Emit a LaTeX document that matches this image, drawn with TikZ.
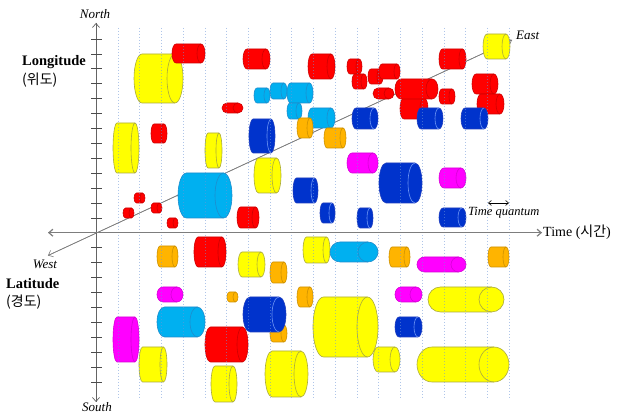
\documentclass[tikz,border=0pt]{standalone}
\usepackage{fontspec}
\setmainfont{Liberation Serif}
\newfontfamily\kr{Noto Sans CJK KR}
\usetikzlibrary{arrows.meta}
\definecolor{cyYf}{RGB}{255,255,0}\definecolor{cyYd}{RGB}{170,170,60}
\definecolor{cyRf}{RGB}{255,0,0}\definecolor{cyRd}{RGB}{205,0,0}
\definecolor{cyCf}{RGB}{0,176,240}\definecolor{cyCd}{RGB}{30,140,205}
\definecolor{cyBf}{RGB}{0,51,204}\definecolor{cyBd}{RGB}{30,60,190}\definecolor{cyBa}{RGB}{110,150,245}
\definecolor{cyOf}{RGB}{255,180,0}\definecolor{cyOd}{RGB}{205,145,0}
\definecolor{cyMf}{RGB}{255,0,255}\definecolor{cyMd}{RGB}{215,0,215}
\definecolor{gridc}{RGB}{110,150,215}
\definecolor{axc}{RGB}{125,125,125}
\newcommand\cyl[6]{%
  \pgfmathsetmacro\cyT{414-#3}\pgfmathsetmacro\cyBt{414-#5}%
  \pgfmathsetmacro\cyRy{(#5-#3)/2}%
  \pgfmathsetmacro\cxa{#2+#6}\pgfmathsetmacro\cxb{#4-#6}%
  \path[#1body] (\cxa,\cyT) -- (\cxb,\cyT) arc[start angle=90,end angle=-90,x radius=#6pt,y radius=\cyRy pt] -- (\cxa,\cyBt) arc[start angle=270,end angle=90,x radius=#6pt,y radius=\cyRy pt] -- cycle;
  \draw[#1arc] (\cxb,\cyT) arc[start angle=90,end angle=270,x radius=#6pt,y radius=\cyRy pt];
}
\tikzset{
  ybody/.style={fill=cyYf,draw=cyYd,line width=0.6pt}, yarc/.style={draw=cyYd,line width=0.6pt},
  rbody/.style={fill=cyRf,draw=cyRd,line width=0.6pt}, rarc/.style={draw=cyRd,line width=0.6pt},
  cbody/.style={fill=cyCf,draw=cyCd,line width=0.6pt}, carc/.style={draw=cyCd,line width=0.6pt},
  bbody/.style={fill=cyBf,draw=cyBd,line width=0.6pt}, barc/.style={draw=cyBa,line width=0.6pt},
  obody/.style={fill=cyOf,draw=cyOd,line width=0.6pt}, oarc/.style={draw=cyOd,line width=0.6pt},
  mbody/.style={fill=cyMf,draw=cyMd,line width=0.6pt}, marc/.style={draw=cyMd,line width=0.6pt},
  gridline/.style={draw=gridc,line width=0.6pt,dash pattern=on 1.5pt off 1.5pt,opacity=0.55},
  openarrow/.style={-{Straight Barb[length=4pt,width=7pt]}},
  dirlabel/.style={font=\itshape\fontsize{13}{15}\selectfont,inner sep=0pt},
  axlabel/.style={font=\bfseries\fontsize{14.5}{16}\selectfont,inner sep=0pt,anchor=west},
  krlabel/.style={font=\kr\fontsize{14}{16}\selectfont,inner sep=0pt,anchor=west},
}
\begin{document}
\begin{tikzpicture}[x=1pt,y=1pt]
\useasboundingbox[fill=white] (0,0) rectangle (619,414);
% axes coordinates
\coordinate (ntop) at (96,391);
\coordinate (sbot) at (96,12);
\coordinate (wend) at (48,181.3);
\coordinate (eend) at (542,181.3);
\coordinate (swest) at (48,158.5);
\coordinate (neast) at (512,374);
% diagonal (behind)
\draw[axc,line width=0.6pt,openarrow] (neast) -- (swest);
\draw[axc,line width=0.6pt,openarrow] (swest) -- (neast);
% cylinders
\cyl{y}{134}{54}{183}{103}{8}
\cyl{y}{113}{123}{139}{173}{4}
\cyl{y}{205}{133}{222}{168}{3}
\cyl{y}{254}{158}{281}{193}{4.5}
\cyl{y}{483}{34}{510}{59}{4}
\cyl{y}{303}{237}{330}{263}{3.5}
\cyl{y}{238}{252}{265}{277}{4}
\cyl{y}{139}{347}{167}{382}{3.5}
\cyl{y}{211}{366}{237}{402}{4}
\cyl{y}{265}{351}{308}{397}{7}
\cyl{y}{313}{297}{378}{357}{10.5}
\cyl{y}{373}{347}{400}{372}{5}
\cyl{y}{428}{287}{504}{312}{12.5}
\cyl{y}{417}{347}{509}{382}{15}
\cyl{r}{172}{44}{205}{63}{4}
\cyl{r}{151}{124}{167}{143}{3}
\cyl{r}{243}{49}{270}{69}{4}
\cyl{r}{308}{54}{335}{79}{4}
\cyl{r}{347}{59}{362}{74}{3}
\cyl{r}{352}{74}{367}{89}{3}
\cyl{r}{368}{69}{383}{84}{3}
\cyl{r}{379}{64}{400}{79}{3}
\cyl{r}{373}{88}{394}{99}{5}
\cyl{r}{400}{98}{428}{119}{4}
\cyl{r}{395}{79}{438}{99}{6}
\cyl{r}{439}{89}{455}{104}{3}
\cyl{r}{439}{49}{466}{69}{3.5}
\cyl{r}{472}{74}{498}{94}{4}
\cyl{r}{477}{94}{504}{114}{4}
\cyl{r}{222}{103}{243}{113}{5}
\cyl{r}{134}{193}{145}{203}{2.5}
\cyl{r}{123}{208}{134}{218}{2.5}
\cyl{r}{151}{203}{162}{213}{2.5}
\cyl{r}{167}{218}{178}{228}{2.5}
\cyl{r}{237}{207}{259}{228}{3.5}
\cyl{r}{194}{237}{226}{267}{4}
\cyl{r}{205}{327}{248}{362}{5.5}
\cyl{c}{254}{88}{270}{103}{3}
\cyl{c}{270}{83}{287}{99}{3}
\cyl{c}{287}{83}{313}{103}{3.5}
\cyl{c}{287}{103}{302}{119}{3}
\cyl{c}{308}{108}{335}{128}{4}
\cyl{c}{178}{173}{232}{218}{8.5}
\cyl{c}{330}{242}{378}{262}{10}
\cyl{c}{157}{307}{205}{337}{7.5}
\cyl{o}{297}{118}{313}{138}{3}
\cyl{o}{324}{128}{346}{148}{3}
\cyl{o}{157}{246}{178}{267}{3}
\cyl{o}{389}{247}{410}{267}{3}
\cyl{o}{488}{247}{509}{267}{3}
\cyl{o}{270}{262}{287}{283}{3}
\cyl{o}{227}{292}{238}{302}{2.5}
\cyl{o}{297}{287}{313}{307}{3}
\cyl{o}{270}{325}{287}{342}{3}
\cyl{b}{249}{119}{275}{153}{4}
\cyl{b}{352}{108}{378}{129}{4}
\cyl{b}{417}{108}{443}{129}{4}
\cyl{b}{461}{108}{488}{129}{4}
\cyl{b}{293}{178}{318}{203}{3.5}
\cyl{b}{320}{203}{335}{223}{3}
\cyl{b}{357}{208}{373}{228}{3}
\cyl{b}{379}{163}{422}{203}{7}
\cyl{b}{439}{208}{466}{227}{4}
\cyl{b}{243}{297}{286}{332}{7}
\cyl{b}{395}{317}{422}{337}{4}
\cyl{m}{347}{153}{378}{173}{5}
\cyl{m}{439}{168}{466}{188}{5}
\cyl{m}{417}{257}{466}{272}{7.5}
\cyl{m}{157}{287}{183}{302}{6}
\cyl{m}{113}{317}{139}{362}{4}
\cyl{m}{395}{287}{422}{302}{6}
% grid lines on top
\foreach \i in {0,...,18} {
  \draw[gridline] ({118+21.72*\i},386) -- ({118+21.72*\i},16);
}
% axes
\draw[axc!80!black,line width=0.7pt,openarrow] (sbot) -- (ntop);
\draw[axc!80!black,line width=0.7pt,openarrow] (ntop) -- (sbot);
\foreach \k in {0,...,23} {
  \draw[axc!60!black,line width=0.7pt] (91,{375-14.91*\k}) -- (102,{375-14.91*\k});
}
\draw[axc,line width=1.2pt,openarrow] (wend) -- (eend);
\draw[axc,line width=1.2pt,openarrow] (eend) -- (wend);
% time quantum
\coordinate (tq1) at (488,211);
\coordinate (tq2) at (509,211);
\draw[black,line width=0.6pt,{Straight Barb[length=3pt,width=5pt]}-{Straight Barb[length=3pt,width=5pt]}] (tq1) -- (tq2);
% labels
\node[dirlabel] (north) at (95,400) {North};
\node[dirlabel] (south) at (97,7) {South};
\node[dirlabel] (west) at (45,150) {West};
\node[dirlabel,anchor=west] (east) at (516,379) {East};
\node[dirlabel,anchor=west,font=\itshape\fontsize{12.5}{14}\selectfont] (tq) at (468,201) {Time quantum};
\node[axlabel] (lon) at (22,352) {Longitude};
\node[krlabel] (lonk) at (22,334) {(위도)};
\node[axlabel] (lat) at (6,130) {Latitude};
\node[krlabel] (latk) at (6,112) {(경도)};
\node[inner sep=0pt,anchor=west,font=\fontsize{14}{16}\selectfont] (time) at (543,182) {Time ({\kr 시간})};
\end{tikzpicture}
\end{document}
